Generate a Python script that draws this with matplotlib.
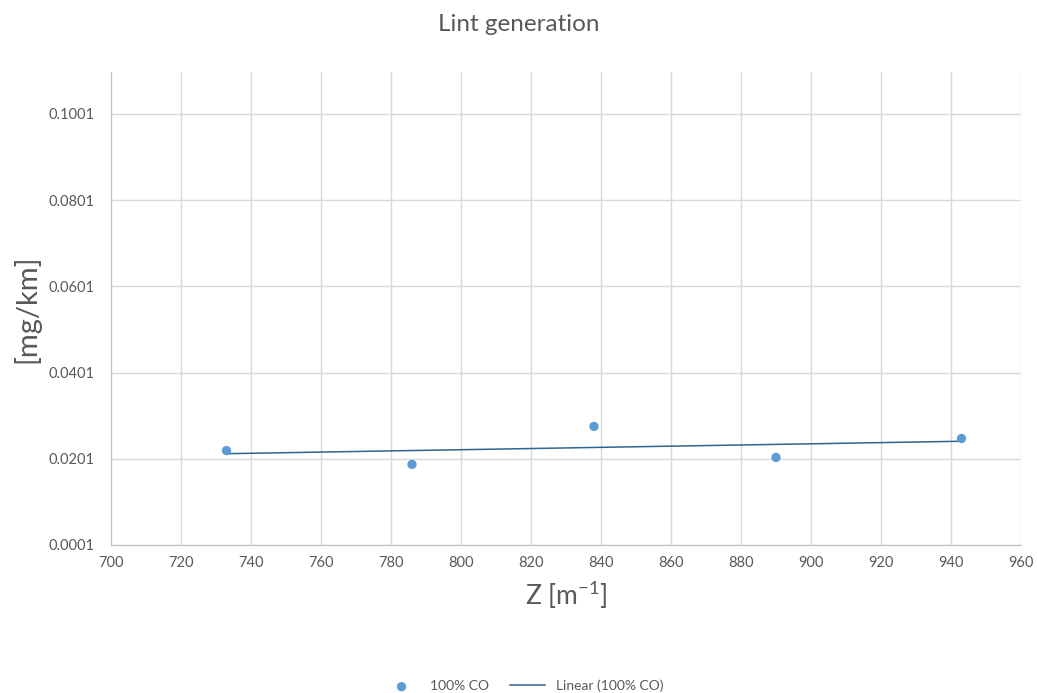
import matplotlib
matplotlib.use("Agg")
import matplotlib.pyplot as plt
import numpy as np

plt.rcParams['font.family'] = ['Lato', 'DejaVu Sans']
plt.rcParams['mathtext.fontset'] = 'custom'
plt.rcParams['mathtext.rm'] = 'Lato'

z_values = [733, 786, 838, 890, 943]
lint_values = [0.0220, 0.0188, 0.0276, 0.0204, 0.0248]
x_ticks = [700, 720, 740, 760, 780, 800, 820, 840, 860, 880, 900, 920, 940, 960]
y_ticks = [0.0001, 0.0201, 0.0401, 0.0601, 0.0801, 0.1001]
y_tick_labels = ["0.0001", "0.0201", "0.0401", "0.0601", "0.0801", "0.1001"]

txt = '#595959'
fig = plt.figure(figsize=(10.37, 6.93), dpi=100)
ax = fig.add_axes([0.107, 0.2136, 0.8776, 0.6824])

coef = np.polyfit(z_values, lint_values, 1)
xt = np.array([min(z_values), max(z_values)])
ax.plot(xt, np.polyval(coef, xt), color='#2F6591', lw=1.1, zorder=2, label='Linear (100% CO)')
ax.scatter(z_values, lint_values, s=45, color='#5B9BD5', zorder=3, label='100% CO', edgecolors='none')

ax.set_xlim(700, 960)
ax.set_ylim(0.0001, 0.1098)
ax.set_xticks(x_ticks)
ax.set_yticks(y_ticks)
ax.set_yticklabels(y_tick_labels)
ax.grid(True, color='#D9D9D9', lw=1)
ax.set_axisbelow(True)
for s in ['top', 'right']:
    ax.spines[s].set_visible(False)
for s in ['left', 'bottom']:
    ax.spines[s].set_color('#BFBFBF')
ax.tick_params(length=0, colors=txt, labelsize=10.5)
ax.tick_params(axis='y', pad=12)
ax.tick_params(axis='x', pad=8)

ax.set_xlabel('Z [m$^{\\mathregular{-1}}$]', fontsize=19, color=txt, labelpad=6)
ax.set_ylabel('[mg/km]', fontsize=21, color=txt, labelpad=6)
fig.text(0.5, 0.965, 'Lint generation', ha='center', va='center', fontsize=17.5, color=txt)

h, l = ax.get_legend_handles_labels()
fig.legend(h[::-1], l[::-1], loc='center', bbox_to_anchor=(0.505, 0.01), ncol=2, frameon=False,
           fontsize=10, labelcolor=txt, handlelength=2.5, columnspacing=1.5, handletextpad=0.8)

fig.savefig('out.png', dpi=100)
